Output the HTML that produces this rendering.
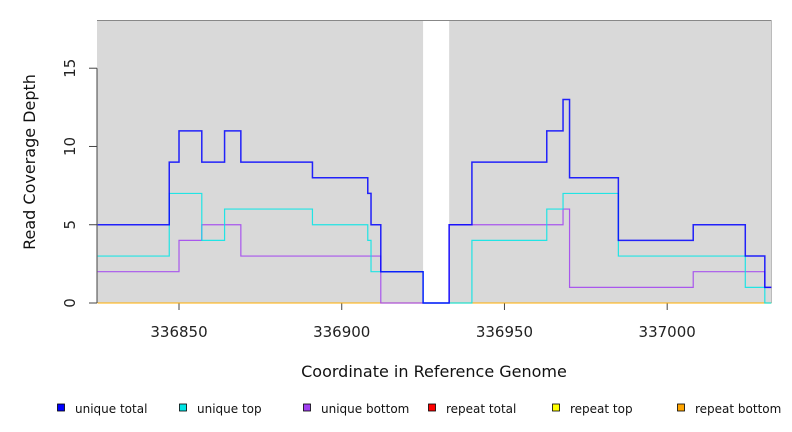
<!DOCTYPE html>
<html><head><meta charset="utf-8"><style>
body{margin:0;background:#fff;}
svg{display:block;font-family:"DejaVu Sans","Liberation Sans",sans-serif;}
</style></head><body>
<svg id="c" width="792" height="432"></svg>
<script>
const xTicks=[336850,336900,336950,337000];
const yTicks=[0,5,10,15];
const seriesNames=["unique total","unique top","unique bottom","repeat total","repeat top","repeat bottom"];
const seriesColors=["#0000ff","#00e5e5","#a040f0","#ff0000","#ffff00","#ffa500"];
const uTotalX=[336825,336847,336850,336857,336864,336869,336891,336908,336909,336912,336925,336933,336940,336963,336968,336970,336985,337008,337024,337030,337032];
const uTotalY=[5,9,11,9,11,9,8,7,5,2,0,5,9,11,13,8,4,5,3,1];
const uTopX=[336825,336847,336857,336864,336891,336908,336909,336912,336925,336940,336963,336968,336985,337024,337030,337032];
const uTopY=[3,7,4,6,5,4,2,2,0,4,6,7,3,1,0];
const uBotX=[336825,336850,336857,336869,336912,336933,336968,336970,337008,337030,337032];
const uBotY=[2,4,5,3,0,5,6,1,2,1];
const repX=[336825,337032];
const repY=[0];
const gapX=[336925,336933];

const L=97,R=771,T=20,B=303,xmin=336824.8,xmax=337031.9,ymax=18.08;
const sx=v=>L+(v-xmin)/(xmax-xmin)*(R-L);
const sy=v=>B-v/ymax*(B-T);
const svg=document.getElementById('c');
const NS='http://www.w3.org/2000/svg';
function mk(tag,a,p){const e=document.createElementNS(NS,tag);for(const k in a)e.setAttribute(k,a[k]);(p||svg).appendChild(e);return e;}

let r=mk('rect',{x:L,y:T,width:sx(gapX[0])-L,height:B-T,fill:'#d9d9d9'});


r=mk('rect',{x:sx(gapX[1]),y:T,width:R-sx(gapX[1]),height:B-T,fill:'#d9d9d9'});


let ln=mk('line',{x1:L,x2:R,y1:T+0.5,y2:T+0.5,stroke:'#888','stroke-width':1});


ln=mk('line',{x1:R+0.5,x2:R+0.5,y1:T,y2:B,stroke:'#bbb','stroke-width':1});



ln=mk('line',{x1:L,x2:L,y1:sy(0),y2:sy(15),stroke:'#444'});


yTicks.forEach(v=>{
 const t=mk('line',{x1:L-8,x2:L,y1:sy(v),y2:sy(v),stroke:'#444'});
 
 
 const y=sy(v);
 const tx=mk('text',{x:75,y:y,'font-size':15,fill:'#222','text-anchor':'middle',transform:`rotate(-90 75 ${y})`});
 tx.textContent=v;
 
 
});
xTicks.forEach(v=>{
 const x=sx(v);
 const t=mk('line',{x1:x,x2:x,y1:B,y2:B+7,stroke:'#444'});
 
 
 const tx=mk('text',{x:x,y:337,'font-size':15,fill:'#222','text-anchor':'middle'});
 tx.textContent=v;
 
 
});
let tt=mk('text',{x:434,y:377,'font-size':16,fill:'#111','text-anchor':'middle'});
tt.textContent='Coordinate in Reference Genome';


tt=mk('text',{x:35,y:162,'font-size':16,fill:'#111','text-anchor':'middle',transform:'rotate(-90 35 162)'});
tt.textContent='Read Coverage Depth';



function step(xs,ys,color,name,w){
 let d=`M${sx(xs[0])},${sy(ys[0])}`;
 for(let i=0;i<ys.length;i++){
  d+=` L${sx(xs[i+1])},${sy(ys[i])}`;
  if(i+1<ys.length)d+=` L${sx(xs[i+1])},${sy(ys[i+1])}`;
 }
 const p=mk('path',{d:d,fill:'none',stroke:color,'stroke-width':w,'stroke-opacity':0.85});
 
 
}
step(repX,repY,seriesColors[3],'repeat-total-line',1);
step(repX,repY,seriesColors[4],'repeat-top-line',1);
step(repX,repY,seriesColors[5],'repeat-bottom-line',1);
step(uBotX,uBotY,seriesColors[2],'unique-bottom-line',1.2);
step(uTopX,uTopY,seriesColors[1],'unique-top-line',1.2);
step(uTotalX,uTotalY,seriesColors[0],'unique-total-line',1.5);

const lgX=[61,183,307,432,556,681];
seriesNames.forEach((n,i)=>{
 const g=mk('g',{});
 
 
 mk('rect',{x:lgX[i]-3.5,y:404,width:7,height:7,fill:seriesColors[i],stroke:'#000','stroke-width':0.8},g);
 const t=mk('text',{x:lgX[i]+14,y:413,'font-size':12,fill:'#111'},g);
 t.textContent=n;
});
</script>
</body></html>
